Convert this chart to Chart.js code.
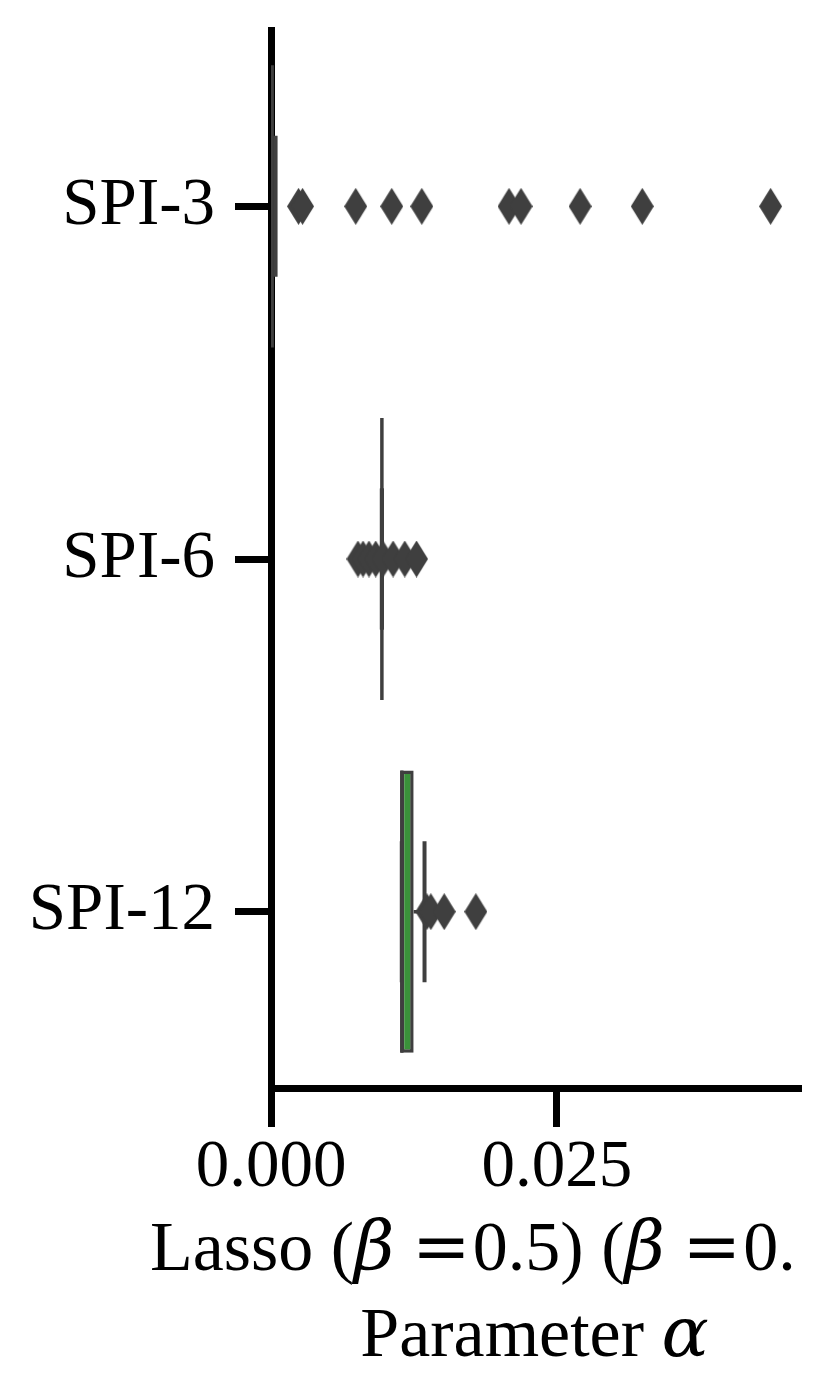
<!DOCTYPE html>
<html>
<head>
<meta charset="utf-8">
<script src="https://cdn.jsdelivr.net/npm/chart.js@4.4.1/dist/chart.umd.min.js"></script>
<style>
  html, body { margin: 0; padding: 0; background: #ffffff; }
  #wrap { width: 825px; height: 1398px; position: relative; }
  canvas { display: block; }
</style>
</head>
<body>
<div id="wrap"><canvas id="chart" width="825" height="1398"></canvas></div>
<script>
// ---------------- data ----------------
const categories = ['SPI-3', 'SPI-6', 'SPI-12'];
const boxQ1 = [0.0000, 0.0097, 0.01135];
const boxMedian = [0.0001, 0.0097, 0.01144];
const boxQ3 = [0.0003, 0.0097, 0.01248];
const whiskerLow = [0.0000, 0.0097, 0.01144];
const whiskerHigh = [0.0004, 0.0097, 0.01343];
const outliersSPI3 = [0.00241, 0.00276, 0.00741, 0.01056, 0.01319, 0.02082, 0.02187, 0.02704, 0.03248, 0.04370];
const outliersSPI6 = [0.00761, 0.00805, 0.00857, 0.00916, 0.00980, 0.01068, 0.01170, 0.01273];
const outliersSPI12 = [0.01363, 0.01398, 0.01515, 0.01792];
const xTickValues = [0, 0.025];
const xMin = 0;
const xMax = 0.0461;
// axis title: [text, kind] where kind: 'r' roman, 'i' math italic, 'm' math operator, 'g' gap (em)
const titleLine1 = [['Lasso (', 'r'], ['β', 'i'], [0.25, 'g'], ['=', 'm'], [0.03, 'g'], ['0.5) (', 'r'], ['β', 'i'], [0.25, 'g'], ['=', 'm'], [0.03, 'g'], ['0.', 'r']];
const titleLine2 = [['Parameter ', 'r'], ['α', 'i']];

// ---------------- styles ----------------
const boxColors = ['#3274a1', '#e1812c', '#3a923a'];
const lineGrey = '#3f3f3f';
const FONT = '"Liberation Serif", "Times New Roman", serif';
const MATH_FONT = '"DejaVu Serif", ' + FONT;
const TICK_SIZE = 67;
const TITLE_SIZE = 70;

function makeDiamond(w, h, color) {
  const c = document.createElement('canvas');
  c.width = w; c.height = h;
  const g = c.getContext('2d');
  g.fillStyle = color;
  g.beginPath();
  g.moveTo(w / 2, 0);
  g.lineTo(w, h / 2);
  g.lineTo(w / 2, h);
  g.lineTo(0, h / 2);
  g.closePath();
  g.fill();
  return c;
}
const diamond = makeDiamond(23, 37, lineGrey);

function bandPx(chart) {
  const y = chart.scales.y;
  return Math.abs(y.getPixelForValue(1) - y.getPixelForValue(0));
}

const outlierGroups = [outliersSPI3, outliersSPI6, outliersSPI12];

const datasets = [];
// box bodies (IQR)
datasets.push({
  type: 'bar',
  data: categories.map((c, i) => [boxQ1[i], boxQ3[i]]),
  backgroundColor: boxColors,
  borderColor: lineGrey,
  borderWidth: 3.5,
  borderSkipped: false,
  categoryPercentage: 0.8,
  barPercentage: 1,
  order: 5
});
// whiskers
categories.forEach((c, i) => {
  datasets.push({
    type: 'scatter', showLine: true, order: 4,
    data: [{ x: whiskerLow[i], y: c }, { x: boxQ1[i], y: c }],
    borderColor: lineGrey, borderWidth: 3.5, pointRadius: 0
  });
  datasets.push({
    type: 'scatter', showLine: true, order: 4,
    data: [{ x: boxQ3[i], y: c }, { x: whiskerHigh[i], y: c }],
    borderColor: lineGrey, borderWidth: 3.5, pointRadius: 0
  });
});
// caps
datasets.push({
  type: 'scatter', order: 3,
  data: categories.flatMap((c, i) => [{ x: whiskerLow[i], y: c }, { x: whiskerHigh[i], y: c }]),
  pointStyle: 'line', rotation: 90,
  radius: (ctx) => bandPx(ctx.chart) * 0.2,
  borderColor: lineGrey, borderWidth: 4, backgroundColor: lineGrey
});
// medians
datasets.push({
  type: 'scatter', order: 2,
  data: categories.map((c, i) => ({ x: boxMedian[i], y: c })),
  pointStyle: 'line', rotation: 90,
  radius: (ctx) => bandPx(ctx.chart) * 0.4,
  borderColor: lineGrey, borderWidth: 3.5, backgroundColor: lineGrey
});
// outliers
datasets.push({
  type: 'scatter', order: 1,
  data: categories.flatMap((c, i) => outlierGroups[i].map(v => ({ x: v, y: c }))),
  pointStyle: diamond, radius: 11,
  borderColor: lineGrey, backgroundColor: lineGrey
});

function fontFor(k, size) {
  if (k === 'i') return 'italic ' + size + 'px ' + MATH_FONT;
  if (k === 'm') return size + 'px ' + MATH_FONT;
  return size + 'px ' + FONT;
}
function drawSegments(ctx, segs, startX, y, size) {
  let x = startX;
  segs.forEach(([s, k]) => {
    if (k === 'g') { x += s * size; return; }
    ctx.font = fontFor(k, size);
    ctx.fillText(s, x, y);
    x += ctx.measureText(s).width;
  });
  return x;
}
function measureSegments(ctx, segs, size) {
  return segs.reduce((w, [s, k]) => {
    if (k === 'g') return w + s * size;
    ctx.font = fontFor(k, size);
    return w + ctx.measureText(s).width;
  }, 0);
}

const axisTitlePlugin = {
  id: 'axisTitle',
  afterDraw(chart) {
    const ctx = chart.ctx;
    const xs = chart.scales.x;
    const cx = (xs.left + xs.right) / 2;
    ctx.save();
    ctx.fillStyle = '#000000';
    ctx.textAlign = 'left';
    ctx.textBaseline = 'alphabetic';
    // line 1: starts left of the plot and runs to the figure edge in the original
    const y1 = xs.top + 182;
    drawSegments(ctx, titleLine1, xs.left - 121, y1, TITLE_SIZE);
    // line 2: centred under the axis
    const w2 = measureSegments(ctx, titleLine2, TITLE_SIZE);
    drawSegments(ctx, titleLine2, cx - w2 / 2, y1 + 86, TITLE_SIZE);
    ctx.restore();
  }
};

new Chart(document.getElementById('chart'), {
  type: 'bar',
  data: { labels: categories, datasets },
  options: {
    indexAxis: 'y',
    responsive: false,
    animation: false,
    events: [],
    layout: { padding: { left: 0, right: 27, top: 30, bottom: 0 } },
    plugins: { legend: { display: false }, tooltip: { enabled: false } },
    scales: {
      x: {
        type: 'linear', position: 'bottom',
        min: xMin, max: xMax,
        afterBuildTicks: (scale) => { scale.ticks = xTickValues.map(v => ({ value: v })); },
        afterFit: (scale) => { scale.height = 310; scale.paddingLeft = 0; scale.paddingRight = 0; },
        ticks: {
          callback: (v) => Number(v).toFixed(3),
          font: { family: FONT, size: TICK_SIZE },
          color: '#000000', padding: 1, maxRotation: 0, autoSkip: false
        },
        grid: { display: true, drawOnChartArea: false, drawTicks: true, tickLength: 39, tickWidth: 7, tickColor: '#000000', lineWidth: 7, color: '#000000' },
        border: { display: true, color: '#000000', width: 7 },
        title: { display: false }
      },
      y: {
        type: 'category', position: 'left', offset: true,
        afterFit: (scale) => { scale.width = 271; scale.paddingTop = 0; scale.paddingBottom = 0; },
        ticks: { font: { family: FONT, size: TICK_SIZE }, color: '#000000', padding: 20 },
        grid: { display: true, offset: false, drawOnChartArea: false, drawTicks: true, tickLength: 36, tickWidth: 7, tickColor: '#000000', lineWidth: 7, color: '#000000' },
        border: { display: true, color: '#000000', width: 7 }
      }
    }
  },
  plugins: [axisTitlePlugin]
});
</script>
</body>
</html>
